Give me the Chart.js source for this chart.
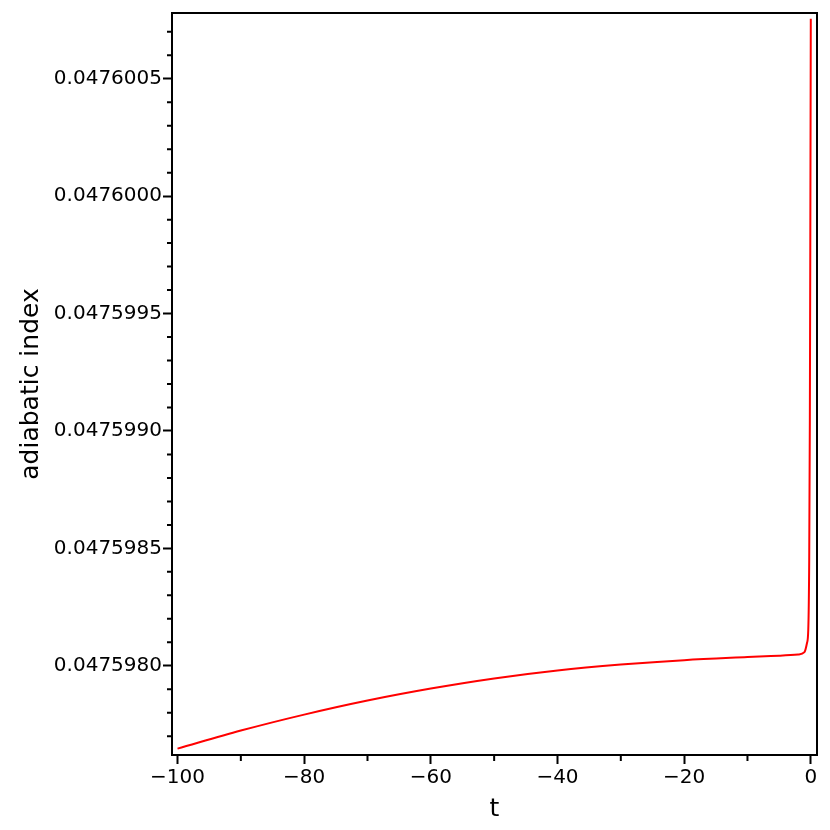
<!DOCTYPE html>
<html>
<head>
<meta charset="utf-8">
<script src="https://cdn.jsdelivr.net/npm/chart.js@4"></script>
<style>
  html, body { margin: 0; padding: 0; background: #fff; }
  #wrap { width: 830px; height: 830px; }
</style>
</head>
<body>
<div id="wrap"><canvas id="myChart" width="830" height="830"></canvas></div>
<script>
// curve
var tValues = [-100, -90, -80, -70, -60, -50, -40, -30, -20, -10, -5, -2, -1, -0.6, -0.4, -0.25, -0.15, -0.08, 0];
var indexValues = [0.047597647, 0.047597724, 0.047597792, 0.047597852, 0.047597903, 0.047597946,
                   0.047597980, 0.047598005, 0.047598024, 0.047598037, 0.047598043, 0.047598048,
                   0.047598058, 0.047598097, 0.047598152, 0.047598450, 0.047599045, 0.047599768, 0.047600755];

var xTicks = [-100, -80, -60, -40, -20, 0];
var xMinorTicks = [-90, -70, -50, -30, -10];
var yTicks = [0.047598, 0.0475985, 0.047599, 0.0475995, 0.0476, 0.0476005];
var yMinorTicks = [0.0475977, 0.0475978, 0.0475979, 0.0475981, 0.0475982, 0.0475983, 0.0475984,
                   0.0475986, 0.0475987, 0.0475988, 0.0475989, 0.0475991, 0.0475992, 0.0475993,
                   0.0475994, 0.0475996, 0.0475997, 0.0475998, 0.0475999, 0.0476001, 0.0476002,
                   0.0476003, 0.0476004, 0.0476006, 0.0476007];

var points = tValues.map(function (t, i) { return { x: t, y: indexValues[i] }; });

// box round the plot + short minor tick marks
var framePlugin = {
    id: 'frame',
    afterDraw: function (chart) {
        var c = chart.ctx, a = chart.chartArea;
        var xs = chart.scales.x, ys = chart.scales.y;
        c.save();
        c.strokeStyle = '#000';
        c.lineWidth = 2;
        c.strokeRect(a.left, a.top, a.right - a.left, a.bottom - a.top);
        c.beginPath();
        xMinorTicks.forEach(function (v) {
            var px = xs.getPixelForValue(v);
            c.moveTo(px, a.bottom);
            c.lineTo(px, a.bottom + 6);
        });
        yMinorTicks.forEach(function (v) {
            var py = ys.getPixelForValue(v);
            if (py < a.top || py > a.bottom) return;
            c.moveTo(a.left, py);
            c.lineTo(a.left - 5, py);
        });
        c.stroke();
        c.restore();
    }
};

var ctx = document.getElementById("myChart").getContext('2d');
var myChart = new Chart(ctx, {
    type: 'line',
    data: {
        datasets: [{
            data: points,
            borderColor: 'rgb(255,0,0)',
            borderWidth: 2,
            pointRadius: 0,
            fill: false,
            cubicInterpolationMode: 'monotone'
        }]
    },
    options: {
        responsive: false,
        animation: false,
        layout: { padding: { top: 12, right: 13, left: 0, bottom: 0 } },
        plugins: { legend: { display: false }, tooltip: { enabled: false } },
        scales: {
            x: {
                type: 'linear',
                min: -100.87,
                max: 0.98,
                afterBuildTicks: function (scale) {
                    scale.ticks = xTicks.map(function (v) { return { value: v }; });
                },
                afterFit: function (scale) { scale.height = 75; },
                grid: { drawOnChartArea: false, tickLength: 9, tickColor: '#000', tickWidth: 2 },
                border: { color: '#000', width: 2 },
                ticks: {
                    color: '#000',
                    padding: 2,
                    maxRotation: 0,
                    font: { family: 'DejaVu Sans', size: 20 },
                    callback: function (v) { return v < 0 ? '\u2212' + Math.abs(v) : String(v); }
                },
                title: {
                    display: true,
                    text: 't',
                    color: '#000',
                    font: { family: 'DejaVu Sans', size: 25 },
                    padding: { top: 0, bottom: 6 }
                }
            },
            y: {
                type: 'linear',
                min: 0.04759762,
                max: 0.04760078,
                afterBuildTicks: function (scale) {
                    scale.ticks = yTicks.map(function (v) { return { value: v }; });
                },
                afterFit: function (scale) { scale.width = 172; },
                grid: { drawOnChartArea: false, tickLength: 9, tickColor: '#000', tickWidth: 2 },
                border: { color: '#000', width: 2 },
                ticks: {
                    color: '#000',
                    padding: 1,
                    font: { family: 'DejaVu Sans', size: 20 },
                    callback: function (v) { return Number(v).toFixed(7); }
                },
                title: {
                    display: true,
                    text: 'adiabatic index',
                    color: '#000',
                    font: { family: 'DejaVu Sans', size: 25 },
                    padding: { top: 16, bottom: 0 }
                }
            }
        }
    },
    plugins: [framePlugin]
});
</script>
</body>
</html>
